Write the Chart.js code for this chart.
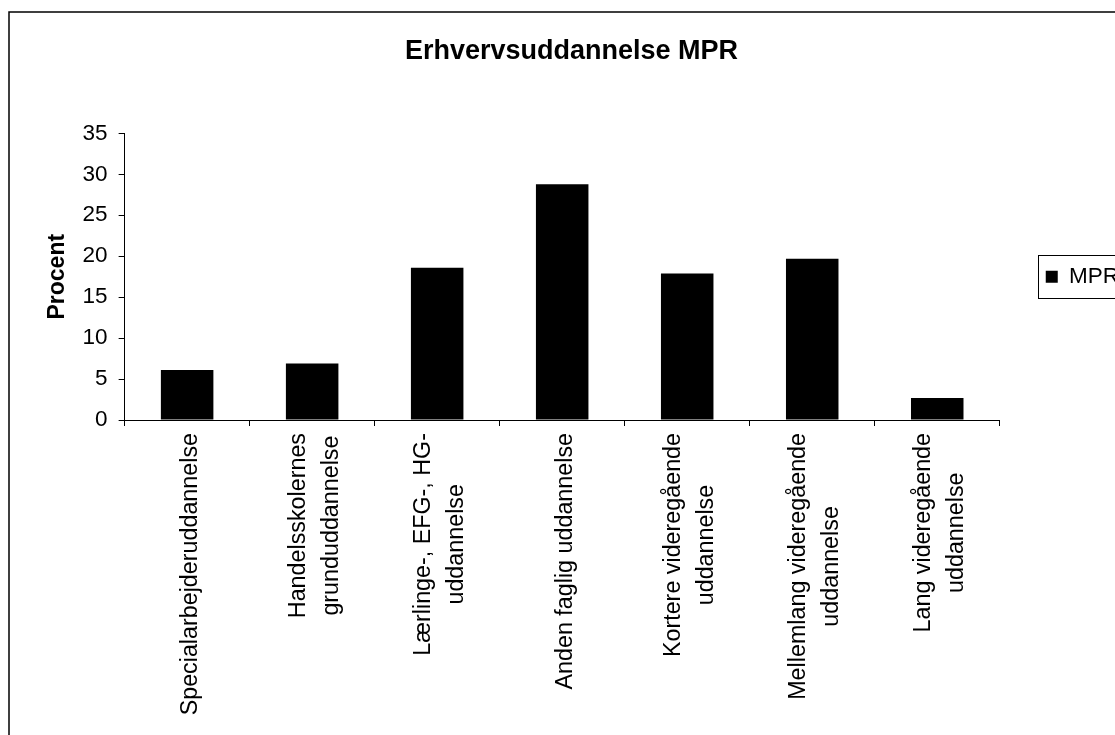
<!DOCTYPE html>
<html>
<head>
<meta charset="utf-8">
<script src="https://cdn.jsdelivr.net/npm/chart.js@4.4.0/dist/chart.umd.min.js"></script>
<style>
  html, body { margin: 0; padding: 0; background: #fff; overflow: hidden; }
  #wrap { width: 1143px; height: 745px; }
</style>
</head>
<body>
<div id="wrap"><canvas id="myChart" width="1143" height="745"></canvas></div>
<script>
// data
const categories = [
    ["Specialarbejderuddannelse"],
    ["Handelsskolernes", "grunduddannelse"],
    ["Lærlinge-, EFG-, HG-", "uddannelse"],
    ["Anden faglig uddannelse"],
    ["Kortere videregående", "uddannelse"],
    ["Mellemlang videregående", "uddannelse"],
    ["Lang videregående", "uddannelse"]
]
const mprValues = [6.1, 6.9, 18.6, 28.8, 17.9, 19.7, 2.7]
const yTicks = [0, 5, 10, 15, 20, 25, 30, 35]

const FONT = "'Liberation Sans', Arial, sans-serif"

// outer frame + box round the legend
const frame = {
    id: 'frame',
    beforeDraw(chart) {
        const ctx = chart.ctx
        ctx.save()
        ctx.fillStyle = '#fff'
        ctx.fillRect(0, 0, chart.width, chart.height)
        ctx.strokeStyle = '#000'
        ctx.lineWidth = 1.5
        ctx.strokeRect(9, 12, chart.width - 18, chart.height + 20)
        ctx.restore()
    },
    afterDraw(chart) {
        const hit = chart.legend.legendHitBoxes[0]
        if (!hit) return
        const ctx = chart.ctx
        ctx.save()
        ctx.strokeStyle = '#000'
        ctx.lineWidth = 1
        ctx.strokeRect(Math.round(hit.left - 8) + 0.5, Math.round(hit.top - 10) + 0.5, 120, Math.round(hit.height + 20))
        ctx.restore()
    }
}

// category labels, rotated, lines centred on each other
const xLabels = {
    id: 'xLabels',
    afterDraw(chart) {
        const ctx = chart.ctx
        const scale = chart.scales.x
        ctx.save()
        ctx.font = '23.3px ' + FONT
        ctx.fillStyle = '#000'
        ctx.textAlign = 'center'
        ctx.textBaseline = 'middle'
        categories.forEach((lines, i) => {
            const w = Math.max(...lines.map(l => ctx.measureText(l).width))
            const x = scale.getPixelForValue(i) + 3
            const y = scale.bottom + 7 + w / 2
            ctx.save()
            ctx.translate(x, y)
            ctx.rotate(-Math.PI / 2)
            lines.forEach((l, j) => ctx.fillText(l, 0, (j - (lines.length - 1) / 2) * 33))
            ctx.restore()
        })
        ctx.restore()
    }
}

new Chart(document.getElementById('myChart'), {
    type: 'bar',
    data: {
        labels: categories,
        datasets: [{
            label: 'MPR',
            data: mprValues,
            backgroundColor: '#000',
            borderWidth: 0,
            barPercentage: 0.42,
            categoryPercentage: 1
        }]
    },
    options: {
        responsive: false,
        animation: false,
        devicePixelRatio: 1,
        layout: { padding: { left: 14, right: 14, top: 0, bottom: 319 } },
        plugins: {
            title: {
                display: true,
                text: 'Erhvervsuddannelse MPR',
                color: '#000',
                font: { family: FONT, size: 27, weight: 'bold', lineHeight: 1.2 },
                padding: { top: 35, bottom: 66 }
            },
            legend: {
                position: 'right',
                fullSize: false,
                labels: {
                    color: '#000',
                    font: { family: FONT, size: 22.5 },
                    boxWidth: 12,
                    boxHeight: 12,
                    padding: 46
                }
            },
            tooltip: { enabled: false }
        },
        scales: {
            x: {
                grid: { display: true, drawOnChartArea: false, drawTicks: true, tickLength: 6, color: '#000', offset: true },
                border: { display: true, color: '#000' },
                ticks: { display: false }
            },
            y: {
                min: yTicks[0],
                max: yTicks[yTicks.length - 1],
                ticks: { stepSize: 5, color: '#000', font: { family: FONT, size: 22.5 }, padding: 11 },
                grid: { drawOnChartArea: false, tickLength: 6, color: '#000' },
                border: { display: true, color: '#000' },
                title: {
                    display: true,
                    text: 'Procent',
                    color: '#000',
                    font: { family: FONT, size: 23, weight: 'bold', lineHeight: 1.2 },
                    padding: { top: 30, bottom: 0 }
                }
            }
        }
    },
    plugins: [frame, xLabels]
})
</script>
</body>
</html>
